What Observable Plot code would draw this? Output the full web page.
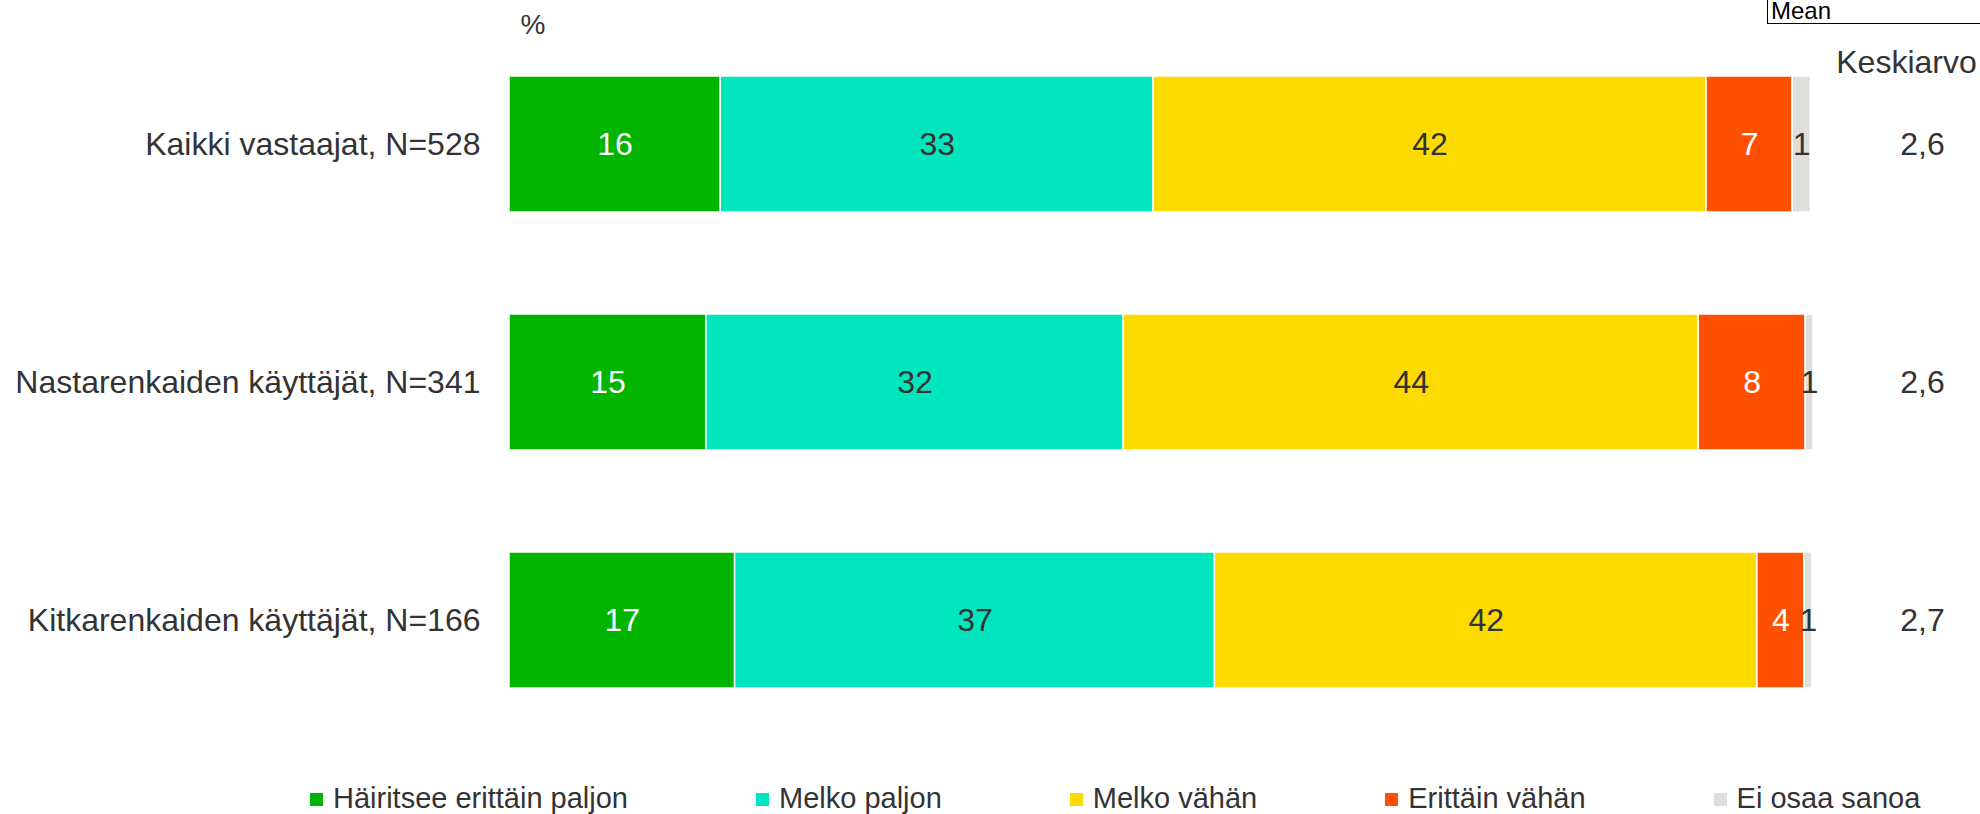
<!DOCTYPE html>
<html>
<head>
<meta charset="utf-8">
<script src="https://cdn.jsdelivr.net/npm/d3@7"></script>
<script src="https://cdn.jsdelivr.net/npm/@observablehq/plot@0.6"></script>
<style>
  html, body { margin: 0; padding: 0; background: #fff; overflow: hidden; }
  body { width: 1980px; height: 814px; position: relative; font-family: "Liberation Sans", Arial, sans-serif; }
  #chart { position: absolute; left: 0; top: 0; }
  #meanbox { position: absolute; left: 1767px; top: -2px; width: 260px; height: 26px; border: 1.5px solid #000; box-sizing: border-box;
             font-size: 24px; line-height: 24px; color: #000; padding-left: 3px; }
  #legend { position: absolute; left: 310px; top: 784px; display: flex; align-items: flex-start; gap: 128px; color: #333; font-size: 29px; line-height: 29px; white-space: nowrap; }
  .item { display: flex; align-items: flex-start; }
  .sw { width: 13px; height: 13px; margin-right: 10px; margin-top: 9px; flex: none; }
</style>
</head>
<body>
<div id="chart"></div>
<div id="meanbox">Mean</div>
<div id="legend"></div>
<script>
// ---- data ----
const groups = ["Kaikki vastaajat, N=528", "Nastarenkaiden käyttäjät, N=341", "Kitkarenkaiden käyttäjät, N=166"];
const responses = ["Häiritsee erittäin paljon", "Melko paljon", "Melko vähän", "Erittäin vähän", "Ei osaa sanoa"];
const hairitseeErittainPaljon = [16.2, 15.1, 17.3];
const melkoPaljon = [33.2, 32.0, 36.8];
const melkoVahan = [42.4, 44.1, 41.6];
const erittainVahan = [6.6, 8.2, 3.6];
const eiOsaaSanoa = [1.4, 0.6, 0.6];
const keskiarvo = [2.6, 2.6, 2.7];
const colors = ["#00B400", "#00E6BE", "#FDDB00", "#FF5000", "#DEDFDA"];
const labelColors = ["#ffffff", "#333333", "#333333", "#ffffff", "#333333"];

const series = [hairitseeErittainPaljon, melkoPaljon, melkoVahan, erittainVahan, eiOsaaSanoa];
const data = [];
groups.forEach((g, gi) => {
  responses.forEach((r, ri) => {
    data.push({group: g, response: r, value: series[ri][gi], li: ri});
  });
});
const means = groups.map((g, i) => ({group: g, mean: keskiarvo[i]}));
const fmt = v => v.toFixed(1).replace(".", ",");

const font = "Liberation Sans, Arial, sans-serif";

const chart = Plot.plot({
  width: 1980,
  height: 814,
  marginLeft: 509,
  marginRight: 167,
  marginTop: 76,
  marginBottom: 126,
  style: {fontFamily: font, color: "#333", background: "white"},
  x: {domain: [0, 100], axis: null},
  y: {domain: groups, paddingInner: 0.4286, paddingOuter: 0, label: null},
  color: {domain: responses, range: colors},
  marks: [
    Plot.barX(data, Plot.stackX({x: "value", y: "group", z: "response", fill: "response", stroke: "white", strokeWidth: 1.5, order: null})),
    Plot.textX(data, Plot.stackX({x: "value", y: "group", z: "response", order: null,
      text: d => String(Math.round(d.value)), fill: d => labelColors[d.li], fontSize: 32})),
    Plot.axisY({tickSize: 0, tickPadding: 29, fontSize: 32, label: null, fill: "#333"}),
    Plot.text(means, {y: "group", frameAnchor: "right", dx: 109, text: d => fmt(d.mean), fontSize: 32, fill: "#333", textAnchor: "middle"}),
    Plot.text(["Keskiarvo"], {frameAnchor: "top-right", dx: 93, dy: -4, lineAnchor: "bottom", text: d => d, fontSize: 32, fill: "#333", textAnchor: "middle"}),
    Plot.text(["%"], {frameAnchor: "top-left", dx: 11, dy: -43, lineAnchor: "bottom", text: d => d, fontSize: 28, fill: "#333", textAnchor: "start"})
  ]
});
document.getElementById("chart").appendChild(chart);

const legend = document.getElementById("legend");
responses.forEach((r, i) => {
  const it = document.createElement("div");
  it.className = "item";
  const sw = document.createElement("span");
  sw.className = "sw";
  sw.style.background = colors[i];
  const tx = document.createElement("span");
  tx.textContent = r;
  it.appendChild(sw);
  it.appendChild(tx);
  legend.appendChild(it);
});
</script>
</body>
</html>
